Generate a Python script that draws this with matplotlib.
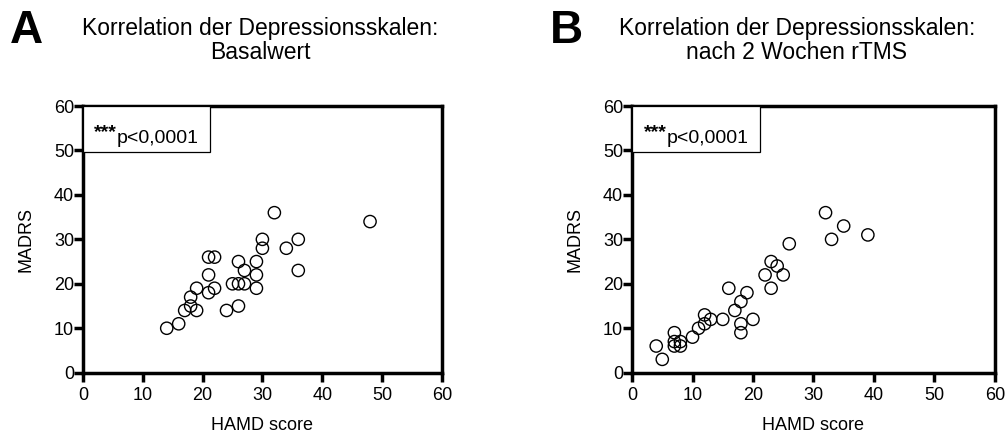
import matplotlib
matplotlib.use("Agg")
import matplotlib.pyplot as plt
from matplotlib.patches import Rectangle

plt.rcParams['font.family'] = ['Liberation Sans', 'DejaVu Sans']

# Panel A: baseline
hamd_a = [14, 16, 17, 18, 18, 19, 19, 21, 22, 21, 21, 22, 24, 25, 26, 27, 26, 26, 27,
          29, 29, 29, 30, 30, 32, 34, 36, 36, 48]
madrs_a = [10, 11, 14, 17, 15, 14, 19, 26, 26, 22, 18, 19, 14, 20, 20, 20, 15, 25, 23,
           25, 22, 19, 30, 28, 36, 28, 30, 23, 34]

# Panel B: after 2 weeks rTMS
hamd_b = [4, 5, 7, 7, 7, 8, 8, 10, 11, 12, 12, 13, 15, 16, 17, 18, 18, 18, 19, 20,
          22, 23, 23, 24, 25, 26, 32, 33, 35, 39]
madrs_b = [6, 3, 9, 7, 6, 7, 6, 8, 10, 13, 11, 12, 12, 19, 14, 16, 11, 9, 18, 12,
           22, 25, 19, 24, 22, 29, 36, 30, 33, 31]

panels = [
    ("A", "Korrelation der Depressionsskalen:\nBasalwert", hamd_a, madrs_a),
    ("B", "Korrelation der Depressionsskalen:\nnach 2 Wochen rTMS", hamd_b, madrs_b),
]
ticks = [0, 10, 20, 30, 40, 50, 60]

fig = plt.figure(figsize=(10.05, 4.43), dpi=100)
rects = [[0.0826, 0.1587, 0.357, 0.602], [0.6289, 0.1587, 0.361, 0.602]]
title_x = [0.259, 0.793]
letter_x = [0.010, 0.547]

for i, (letter, title, x, y) in enumerate(panels):
    rect = rects[i]
    ax = fig.add_axes(rect)
    ax.scatter(x, y, s=78, facecolors='none', edgecolors='black', linewidths=1.0,
               clip_on=False, zorder=3)
    ax.set_xlim(0, 60)
    ax.set_ylim(0, 60)
    ax.set_xticks(ticks)
    ax.set_yticks(ticks)
    for sp in ax.spines.values():
        sp.set_linewidth(2.5)
    ax.tick_params(direction='out', length=6.5, width=2.5, labelsize=13)
    ax.tick_params(axis='x', pad=3.5)
    ax.tick_params(axis='y', pad=0)
    ax.set_xlabel("HAMD score", fontsize=13, labelpad=10)
    ax.set_ylabel("MADRS", fontsize=13, labelpad=14)

    # p-value box
    ax.add_patch(Rectangle((0, 0.828), 0.354, 0.172, transform=ax.transAxes,
                           facecolor='white', edgecolor='black', linewidth=0.9, zorder=4))
    ax.text(0.095, 0.884, "***", transform=ax.transAxes, fontsize=14, fontweight='bold',
            ha='right', va='baseline', zorder=5)
    ax.text(0.095, 0.861, "p<0,0001", transform=ax.transAxes, fontsize=14,
            ha='left', va='baseline', zorder=5)

    # title and panel letter
    fig.text(title_x[i], 0.962, title, fontsize=16.5, ha='center', va='top',
             linespacing=1.05)
    fig.text(letter_x[i], 0.903, letter, fontsize=33, fontweight='bold',
             ha='left', va='baseline')

fig.savefig("out.png", dpi=100)
